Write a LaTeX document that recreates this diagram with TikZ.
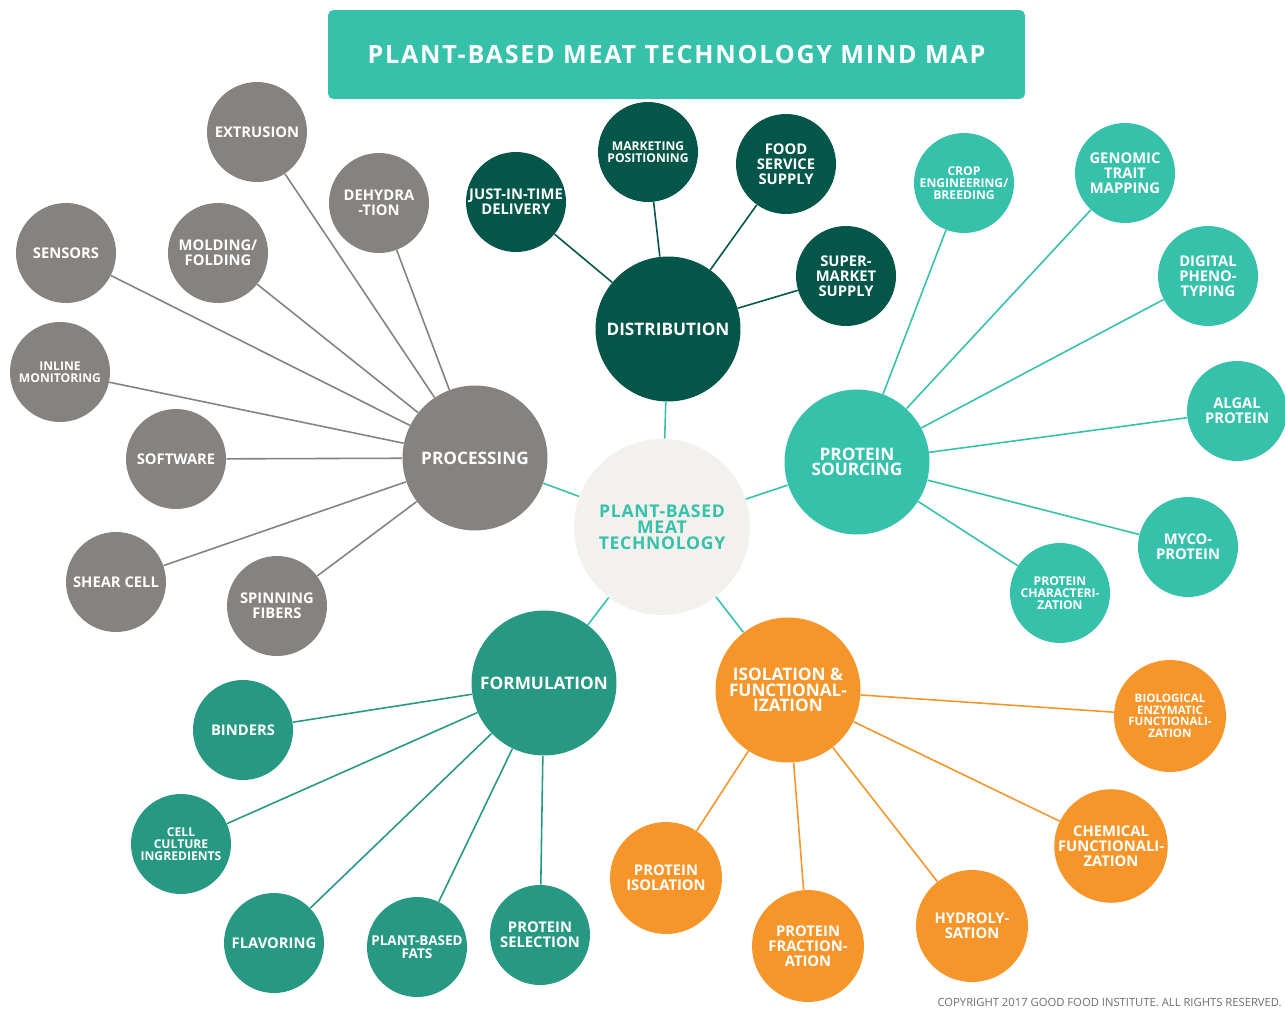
\documentclass[tikz,border=0pt]{standalone}
\usepackage{fontspec}
\setmainfont{Open Sans}
\newfontfamily\titlefont[LetterSpace=7]{Open Sans}
\newfontfamily\centerfont[LetterSpace=4]{Open Sans}
\definecolor{cgray}{RGB}{133,130,128}
\definecolor{cdark}{RGB}{3,86,72}
\definecolor{cteal}{RGB}{54,194,170}
\definecolor{cgreen}{RGB}{39,153,130}
\definecolor{corange}{RGB}{246,150,42}
\definecolor{ccenter}{RGB}{242,241,238}
\definecolor{ccopy}{RGB}{110,110,110}
\begin{document}
\begin{tikzpicture}[x=0.02cm,y=-0.02cm,
  base/.style={circle, inner sep=0pt, align=center, text=white, font=\bfseries\fontsize{8.4}{8.5}\selectfont},
  leaf/.style={base, minimum size=2cm},
  oleaf/.style={base, minimum size=2.24cm, fill=corange},
  hub/.style={base, minimum size=2.9cm, font=\bfseries\fontsize{9.8}{8.8}\selectfont},
  smalltxt/.style={font=\bfseries\fontsize{6.9}{6.8}\selectfont},
  tinytxt/.style={font=\bfseries\fontsize{6.6}{6.6}\selectfont},
  midtxt/.style={font=\bfseries\fontsize{7.7}{7.6}\selectfont},
  grayn/.style={fill=cgray}, darkn/.style={fill=cdark}, tealn/.style={fill=cteal},
  greenn/.style={fill=cgreen},
  link/.style={line width=0.9pt}]
\useasboundingbox[fill=white] (0,0) rectangle (1285,1008);

% title
\node[fill=cteal, rounded corners=3pt, minimum width=13.94cm, minimum height=1.78cm, inner sep=0pt,
  text=white, font=\titlefont\bfseries\fontsize{14.3}{15}\selectfont] (title) at (676.5,54.5) {PLANT-BASED MEAT TECHNOLOGY MIND MAP};

% center
\node[base, minimum size=3.52cm, fill=ccenter, text=cteal, font=\centerfont\bfseries\fontsize{10}{9}\selectfont] (core) at (662,527) {PLANT-BASED\\MEAT\\TECHNOLOGY};

% processing
\node[hub, grayn] (proc) at (475,458) {PROCESSING};
\node[leaf, grayn] (ext) at (257,132) {EXTRUSION};
\node[leaf, grayn] (deh) at (379,203) {DEHYDRA\\-TION};
\node[leaf, grayn] (sen) at (66,253) {SENSORS};
\node[leaf, grayn] (mol) at (218,253) {MOLDING/\\FOLDING};
\node[leaf, grayn, smalltxt] (inl) at (60,372) {INLINE\\MONITORING};
\node[leaf, grayn] (sof) at (176,459) {SOFTWARE};
\node[leaf, grayn] (she) at (116,582) {SHEAR CELL};
\node[leaf, grayn] (spi) at (277,606) {SPINNING\\FIBERS};
\foreach \n in {ext,deh,sen,mol,inl,sof,she,spi} \draw[link, cgray] (proc) -- (\n);

% distribution
\node[hub, darkn] (dist) at (668,329) {DISTRIBUTION};
\node[leaf, darkn] (jit) at (516,202) {JUST-IN-TIME\\DELIVERY};
\node[leaf, darkn, smalltxt] (mkt) at (648,152) {MARKETING\\POSITIONING};
\node[leaf, darkn] (fss) at (786,164) {FOOD\\SERVICE\\SUPPLY};
\node[leaf, darkn] (sup) at (846,276) {SUPER-\\MARKET\\SUPPLY};
\foreach \n in {jit,mkt,fss,sup} \draw[link, cdark] (dist) -- (\n);

% protein sourcing
\node[hub, tealn] (ps) at (857,462) {PROTEIN\\SOURCING};
\node[leaf, tealn, smalltxt] (crop) at (964,183) {CROP\\ENGINEERING/\\BREEDING};
\node[leaf, tealn] (gen) at (1125,173) {GENOMIC\\TRAIT\\MAPPING};
\node[leaf, tealn] (dig) at (1208,276) {DIGITAL\\PHENO-\\TYPING};
\node[leaf, tealn] (alg) at (1237,411) {ALGAL\\PROTEIN};
\node[leaf, tealn] (myc) at (1188,547) {MYCO-\\PROTEIN};
\node[leaf, tealn, smalltxt] (pch) at (1060,593) {PROTEIN\\CHARACTERI-\\ZATION};
\foreach \n in {crop,gen,dig,alg,myc,pch} \draw[link, cteal] (ps) -- (\n);

% formulation
\node[hub, greenn] (form) at (544,683) {FORMULATION};
\node[leaf, greenn] (bin) at (243,730) {BINDERS};
\node[leaf, greenn, smalltxt] (cel) at (181,844) {CELL\\CULTURE\\INGREDIENTS};
\node[leaf, greenn] (fla) at (274,943) {FLAVORING};
\node[leaf, greenn, midtxt] (pbf) at (417,947) {PLANT-BASED\\FATS};
\node[leaf, greenn] (psel) at (540,935) {PROTEIN\\SELECTION};
\foreach \n in {bin,cel,fla,pbf,psel} \draw[link, cgreen] (form) -- (\n);

% isolation
\node[hub, fill=corange] (iso) at (788,690) {ISOLATION \&\\FUNCTIONAL-\\IZATION};
\node[oleaf, tinytxt] (bio) at (1170,716) {BIOLOGICAL\\ENZYMATIC\\FUNCTIONALI-\\ZATION};
\node[oleaf] (chem) at (1111,846) {CHEMICAL\\FUNCTIONALI-\\ZATION};
\node[oleaf] (hyd) at (972,926) {HYDROLY-\\SATION};
\node[oleaf] (pfr) at (808,946) {PROTEIN\\FRACTION-\\ATION};
\node[oleaf] (piso) at (666,878) {PROTEIN\\ISOLATION};
\foreach \n in {bio,chem,hyd,pfr,piso} \draw[link, corange] (iso) -- (\n);

% hubs to center
\foreach \n in {proc,dist,ps,form,iso} \draw[link, cteal] (core) -- (\n);

% copyright
\node[anchor=base east, inner sep=0pt, text=ccopy, font=\fontsize{6.4}{7}\selectfont] (copy) at (1282,1006) {COPYRIGHT 2017 GOOD FOOD INSTITUTE. ALL RIGHTS RESERVED.};
\end{tikzpicture}
\end{document}
